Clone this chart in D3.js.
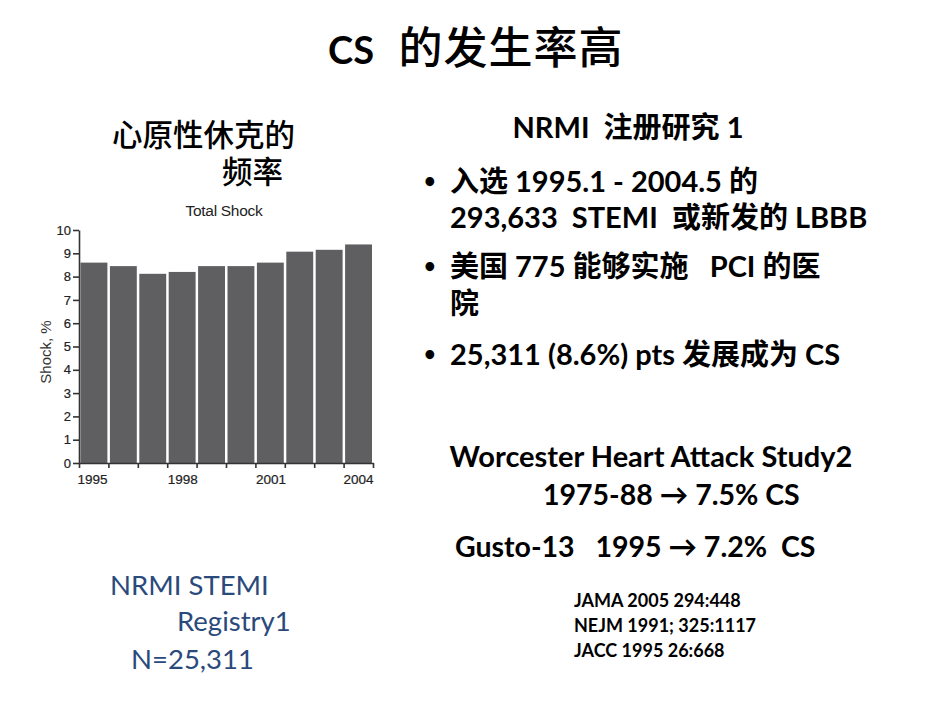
<!DOCTYPE html>
<html lang="zh">
<head>
  <meta charset="UTF-8" />
  <title>CS 的发生率高</title>
  <script src="https://d3js.org/d3.v7.min.js"></script>
  <style>
    body { margin: 0; background: #fff; }
    svg text { white-space: pre; }
  </style>
</head>
<body>
  <svg id="chart" width="950" height="713"></svg>

  <script>
    // Total Shock by period (NRMI STEMI registry)
    const periods = [1, 2, 3, 4, 5, 6, 7, 8, 9, 10];
    const shockPct = [8.6, 8.45, 8.12, 8.2, 8.45, 8.45, 8.6, 9.07, 9.15, 9.38];
    const yearTicks = [0, 3, 6, 10];
    const yearLabels = ["1995", "1998", "2001", "2004"];
    const yTicks = [0, 1, 2, 3, 4, 5, 6, 7, 8, 9, 10];

    const svg = d3.select("#chart");
    const latin = "Lato, 'Noto Sans CJK SC', sans-serif";
    const cjk = "'Noto Sans CJK SC', sans-serif";
    const plotFont = "'Liberation Sans', Arial, sans-serif";

    // Title: Latin and CJK parts sized separately
    const title = svg.append("text")
      .attr("x", 328).attr("y", 64)
      .attr("font-weight", "bold");
    title.append("tspan")
      .attr("font-family", latin).attr("font-size", 38)
      .text("CS  ");
    title.append("tspan")
      .attr("dx", 6)
      .attr("font-family", cjk).attr("font-size", 44)
      .attr("font-weight", 500)
      .attr("letter-spacing", 1)
      .text("的发生率高");

    // Left heading
    svg.append("text")
      .attr("x", 112).attr("y", 146)
      .attr("font-family", cjk)
      .attr("font-size", 30.5)
      .attr("font-weight", 500)
      .text("心原性休克的");
    svg.append("text")
      .attr("x", 222).attr("y", 183)
      .attr("font-family", cjk)
      .attr("font-size", 30.5)
      .attr("font-weight", 500)
      .text("频率");

    // Bar chart
    const x = d3.scaleLinear().domain([0, 10]).range([79, 373]);
    const y = d3.scaleLinear().domain([0, 10]).range([463, 230]);

    svg.append("g")
      .attr("fill", "#5f5f61")
      .selectAll("rect")
      .data(periods)
      .join("rect")
      .attr("x", (d, i) => x(i) + 1.5)
      .attr("y", (d, i) => y(shockPct[i]))
      .attr("width", (d, i) => x(i + 1) - x(i) - 2.5)
      .attr("height", (d, i) => y(0) - y(shockPct[i]));

    const xAxis = svg.append("g")
      .attr("transform", `translate(0,${y(0)})`)
      .call(d3.axisBottom(x)
        .tickValues(d3.range(0, 11))
        .tickSize(5)
        .tickSizeOuter(0)
        .tickFormat(d => {
          const k = yearTicks.indexOf(d);
          return k >= 0 ? yearLabels[k] : "";
        }));
    xAxis.selectAll("text")
      .attr("font-size", 13.5)
      .attr("text-anchor", d => d === 10 ? "end" : "start")
      .attr("dy", "0.95em")
      .attr("dx", d => d === 0 ? -2 : 0);

    const yAxis = svg.append("g")
      .attr("transform", `translate(${x(0)},0)`)
      .call(d3.axisLeft(y).tickValues(yTicks).tickSize(6).tickSizeOuter(0).tickPadding(2));
    yAxis.selectAll("text").attr("font-size", 13);

    svg.selectAll(".tick text")
      .attr("font-family", plotFont)
      .attr("fill", "#222")
      .attr("stroke", "#222")
      .attr("stroke-width", 0.2);
    svg.selectAll(".domain, .tick line").attr("stroke", "#333").attr("stroke-width", 1.6);

    svg.append("text")
      .attr("x", 224).attr("y", 216)
      .attr("text-anchor", "middle")
      .attr("font-family", plotFont)
      .attr("font-size", 15.5)
      .attr("letter-spacing", -0.3)
      .attr("fill", "#222")
      .text("Total Shock");

    svg.append("text")
      .attr("transform", "translate(51,352) rotate(-90)")
      .attr("text-anchor", "middle")
      .attr("font-family", plotFont)
      .attr("font-size", 15)
      .attr("fill", "#333")
      .text("Shock, %");

    // Blue source label
    const blue = "#2b4a7c";
    [["NRMI STEMI", 110, 595], ["Registry1", 177, 631], ["N=25,311", 131, 669]].forEach(([t, tx, ty]) => {
      svg.append("text")
        .attr("x", tx).attr("y", ty)
        .attr("font-family", latin)
        .attr("font-size", 27.5)
        .attr("fill", blue)
        .text(t);
    });

    // Right column text
    const bold = (t, tx, ty, size, anchor) => svg.append("text")
      .attr("x", tx).attr("y", ty)
      .attr("text-anchor", anchor || "start")
      .attr("font-family", latin)
      .attr("font-weight", "bold")
      .attr("font-size", size)
      .attr("fill", "#000")
      .text(t);

    bold("NRMI  注册研究 1", 628, 138, 29, "middle");

    [192, 277, 365].forEach(by => bold("•", 424, by - 4, 20));
    bold("入选 1995.1 - 2004.5 的", 450, 192, 29);
    bold("293,633  STEMI  或新发的 LBBB", 450, 228, 29);
    bold("美国 775 能够实施   PCI 的医", 450, 277, 29);
    bold("院", 450, 314, 29);
    bold("25,311 (8.6%) pts 发展成为 CS", 450, 365, 29);

    bold("Worcester Heart Attack Study2", 651, 467, 29, "middle");
    bold("1975-88 → 7.5% CS", 543, 505, 28.5);
    bold("Gusto-13   1995 → 7.2%  CS", 455, 557, 28.5);

    bold("JAMA 2005 294:448", 574, 607, 18);
    bold("NEJM 1991; 325:1117", 574, 632, 18);
    bold("JACC 1995 26:668", 574, 657, 18);
  </script>
</body>
</html>
